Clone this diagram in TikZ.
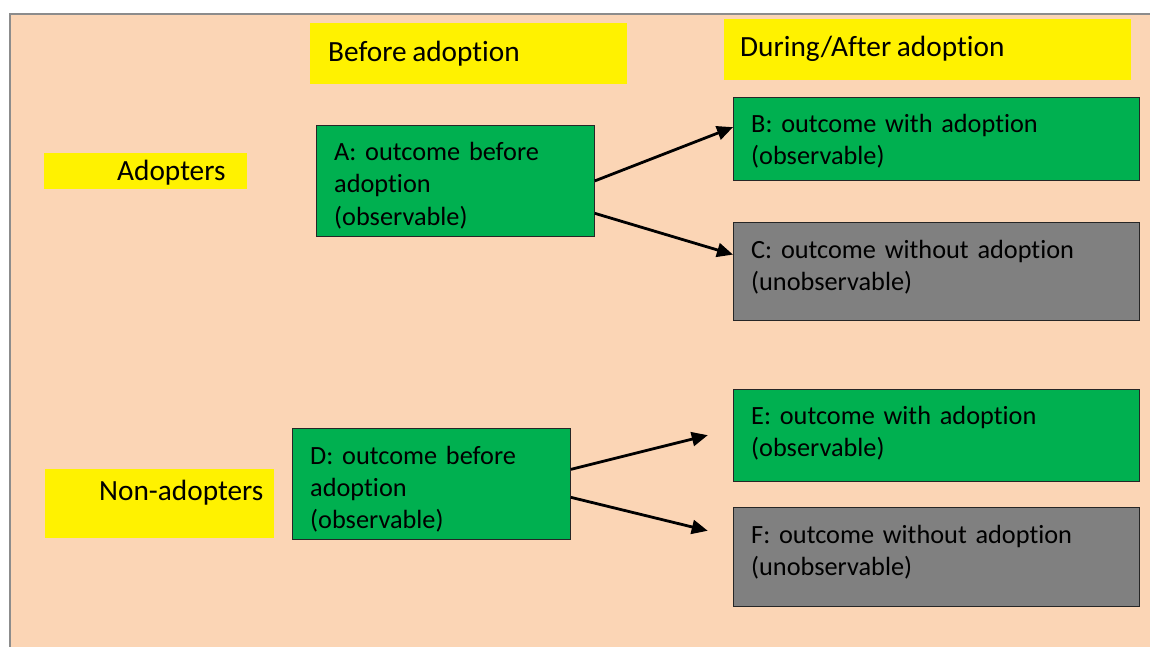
\documentclass[tikz,border=0pt]{standalone}
\usepackage{fontspec}
\setmainfont{Carlito}[Ligatures=NoCommon,WordSpace=0.85]
\usetikzlibrary{arrows.meta,calc}
\definecolor{peach}{HTML}{FBD5B5}
\definecolor{okgreen}{HTML}{00B050}
\definecolor{unobs}{HTML}{808080}
\definecolor{frame}{HTML}{8C8C8C}
\begin{document}
\begin{tikzpicture}[x=1pt,y=-1pt,
  box/.style={draw=black!85, line width=0.8pt, anchor=north west, inner sep=0pt},
  obs/.style={box, fill=okgreen},
  hid/.style={box, fill=unobs},
  txt/.style={anchor=base west, inner sep=0pt, text width=380pt, align=left,
    font=\fontsize{26.3}{32}\selectfont, text=black},
  ybox/.style={fill=yellow, anchor=north west, inner sep=0pt},
  lbl/.style={anchor=base west, inner sep=0pt, font=\fontsize{29.3}{35}\selectfont, text=black},
  arr/.style={line width=2.8pt, -{Triangle[length=16pt,width=14pt]}}]
\useasboundingbox (0,0) rectangle (1150,647);
\fill[white] (0,0) rectangle (1150,647);
\fill[peach] (9,13) rectangle (1150,647);
\draw[frame, line width=2pt] (10,647) -- (10,14) -- (1150,14);
% header labels
\node[ybox, minimum width=317pt, minimum height=61pt] (hb) at (310,23) {};
\node[lbl] (hbt) at (328,62) {Before adoption};
\node[ybox, minimum width=407pt, minimum height=61pt] (ha) at (724,19) {};
\node[lbl] (hat) at (740,57) {During/After adoption};
\node[ybox, minimum width=203pt, minimum height=36pt] (la) at (44,153) {};
\node[lbl] (lat) at (117,180) {Adopters};
\node[ybox, minimum width=229pt, minimum height=69pt] (ln) at (45,469) {};
\node[lbl] (lnt) at (99,500) {Non-adopters};
% boxes
\node[obs, minimum width=278pt, minimum height=111pt] (A) at (316,125) {};
\node[txt] (At) at (334,161) {A: outcome before\\adoption\\(observable)};
\node[obs, minimum width=406pt, minimum height=83pt] (B) at (733,97) {};
\node[txt] (Bt) at (751,133) {B: outcome with adoption\\(observable)};
\node[hid, minimum width=406pt, minimum height=98pt] (C) at (733,222) {};
\node[txt] (Ct) at (751,258) {C: outcome without adoption\\(unobservable)};
\node[obs, minimum width=278pt, minimum height=111pt] (D) at (292,428) {};
\node[txt] (Dt) at (310,464) {D: outcome before\\adoption\\(observable)};
\node[obs, minimum width=406pt, minimum height=92pt] (E) at (733,389) {};
\node[txt] (Et) at (751,424) {E: outcome with adoption\\(observable)};
\node[hid, minimum width=406pt, minimum height=99pt] (F) at (733,507) {};
\node[txt] (Ft) at (751,543) {F: outcome without adoption\\(unobservable)};
% arrows
\draw[arr] ($(A.north east)!0.5!(A.south east)$) -- ($(B.north west)!0.36!(B.south west)$);
\draw[arr] ($(A.north east)!0.79!(A.south east)$) -- ($(C.north west)!0.33!(C.south west)$);
\draw[arr, shorten >=26pt] ($(D.north east)!0.37!(D.south east)$) -- ($(E.north west)!0.43!(E.south west)$);
\draw[arr, shorten >=26pt] ($(D.north east)!0.62!(D.south east)$) -- ($(F.north west)!0.30!(F.south west)$);
\end{tikzpicture}
\end{document}
